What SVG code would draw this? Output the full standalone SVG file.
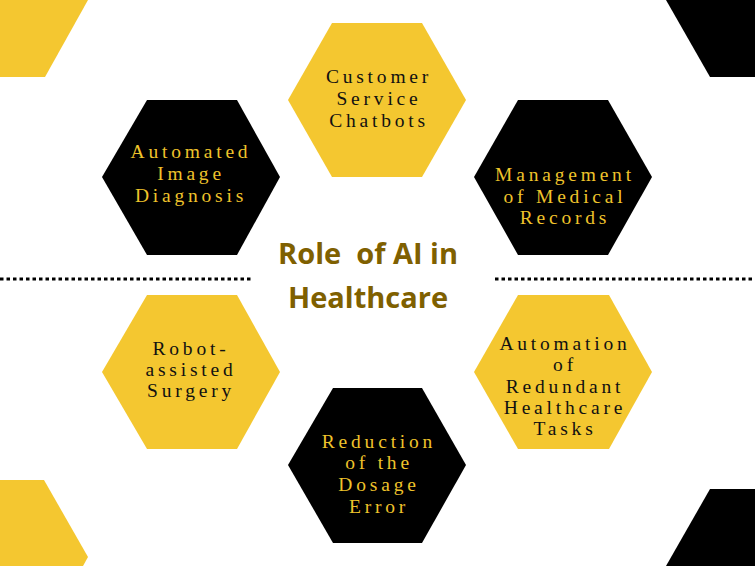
<svg xmlns="http://www.w3.org/2000/svg" width="755" height="566" viewBox="0 0 755 566">
<style>
.y{fill:#F4C730}
.k{fill:#000000}
.t{font-family:"Liberation Serif","Times New Roman",serif;font-size:19.5px;letter-spacing:3.8px;text-anchor:middle}
.tk{fill:#111111}
.ty{fill:#EFC32B}
.title{font-family:"Open Sans","Liberation Sans",sans-serif;font-weight:bold;font-size:29px;fill:#7F6000;text-anchor:middle;white-space:pre}
.dot{stroke:#000;stroke-width:3;stroke-dasharray:3.5 3;fill:none}
</style>
<rect width="755" height="566" fill="#ffffff"/>
<g id="decor">
<polygon class="y" points="0,0 88,0 45,77 0,77"/>
<polygon class="k" points="666,0 755,0 755,77 710,77"/>
<polygon class="y" points="0,480 44,480 88,557 83,566 0,566"/>
<polygon class="k" points="710,489 755,489 755,566 666,566"/>
</g>
<g id="connectors">
<line class="dot" x1="0" y1="279" x2="253" y2="279"/>
<line class="dot" x1="495" y1="279" x2="755" y2="279"/>
</g>
<g id="title">
<text class="title" x="368" y="264" xml:space="preserve">Role  of AI in</text>
<text class="title" x="368" y="308">Healthcare</text>
</g>
<g id="node-customer">
<polygon class="y" points="288,100 332,23 422,23 466,100 422,177 332,177"/>
<text class="t tk" x="379" y="83">Customer</text>
<text class="t tk" x="379" y="105">Service</text>
<text class="t tk" x="379" y="127">Chatbots</text>
</g>
<g id="node-image">
<polygon class="k" points="102,177 147,100 237,100 280,177 237,255 147,255"/>
<text class="t ty" x="191" y="158">Automated</text>
<text class="t ty" x="191" y="180">Image</text>
<text class="t ty" x="191" y="202">Diagnosis</text>
</g>
<g id="node-records">
<polygon class="k" points="474,177 518,100 608,100 652,177 608,255 518,255"/>
<text class="t ty" x="565" y="181">Management</text>
<text class="t ty" x="565" y="203">of Medical</text>
<text class="t ty" x="565" y="224">Records</text>
</g>
<g id="node-robot">
<polygon class="y" points="102,372 147,295 237,295 280,372 237,449 147,449"/>
<text class="t tk" x="191" y="355">Robot-</text>
<text class="t tk" x="191" y="376">assisted</text>
<text class="t tk" x="191" y="397">Surgery</text>
</g>
<g id="node-automation">
<polygon class="y" points="474,372 518,295 609,295 652,372 609,449 518,449"/>
<text class="t tk" x="565" y="350">Automation</text>
<text class="t tk" x="565" y="371">of</text>
<text class="t tk" x="565" y="393">Redundant</text>
<text class="t tk" x="565" y="414">Healthcare</text>
<text class="t tk" x="565" y="435">Tasks</text>
</g>
<g id="node-dosage">
<polygon class="k" points="288,465 333,388 422,388 466,465 422,543 333,543"/>
<text class="t ty" x="379" y="448">Reduction</text>
<text class="t ty" x="379" y="469">of the</text>
<text class="t ty" x="379" y="491">Dosage</text>
<text class="t ty" x="379" y="513">Error</text>
</g>
</svg>
